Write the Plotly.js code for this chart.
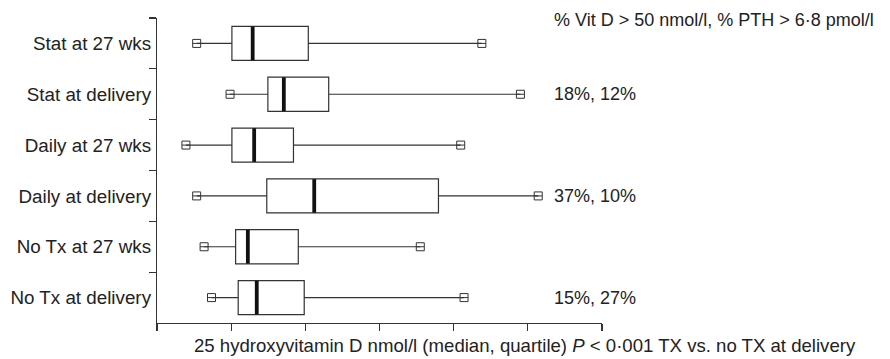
<!DOCTYPE html>
<html>
<head>
<meta charset="utf-8">
<script src="https://cdn.plot.ly/plotly-3.0.1.min.js"></script>
<style>html,body{margin:0;padding:0;background:#fff;}#chart{width:890px;height:359px;}</style>
</head>
<body>
<div id="chart"></div>
<script>
// ---- data (nmol/l) ----
const categories = ['Stat at 27 wks', 'Stat at delivery', 'Daily at 27 wks', 'Daily at delivery', 'No Tx at 27 wks', 'No Tx at delivery'];
const minV   = [10.7, 19.7, 7.8, 10.7, 12.7, 14.7];
const q1V    = [20.2, 29.9, 20.2, 29.6, 21.2, 21.9];
const medV   = [25.8, 34.2, 26.2, 42.4, 24.5, 26.9];
const q3V    = [40.8, 46.3, 36.8, 75.9, 38.1, 39.7];
const maxV   = [87.6, 98.0, 81.9, 102.8, 71.0, 82.8];
const pctLabels = ['', '18%, 12%', '', '37%, 10%', '', '15%, 27%'];
const pctHeader = '% Vit D > 50 nmol/l, % PTH > 6·8 pmol/l';
const xTitle = '25 hydroxyvitamin D nmol/l (median, quartile) <i>P</i> < 0·001 TX vs. no TX at delivery';
const pctX = 106.5;

const FONT = 'Liberation Sans, Arial, Helvetica, sans-serif';
const INK = '#222';
const LINE = '#333';

const traces = [
  {
    type: 'box', orientation: 'h',
    y: categories, q1: q1V, median: medV, q3: q3V,
    lowerfence: minV, upperfence: maxV,
    boxpoints: false, width: 0.67, whiskerwidth: 0,
    fillcolor: '#ffffff', line: {color: LINE, width: 1.2},
    hoverinfo: 'skip', showlegend: false
  },
  { // thick median bars
    type: 'scatter', mode: 'markers', x: medV, y: categories,
    marker: {symbol: 'line-ns', size: 24, color: '#111', line: {color: '#111', width: 3.8}},
    hoverinfo: 'skip', showlegend: false
  },
  { // min / max end markers
    type: 'scatter', mode: 'markers',
    x: minV.concat(maxV), y: categories.concat(categories),
    marker: {symbol: 'square-open', size: 8, color: LINE, line: {color: LINE, width: 1}},
    hoverinfo: 'skip', showlegend: false
  },
  {
    type: 'scatter', mode: 'markers',
    x: minV.concat(maxV), y: categories.concat(categories),
    marker: {symbol: 'line-ew-open', size: 5.7, color: LINE, line: {color: LINE, width: 1}},
    hoverinfo: 'skip', showlegend: false
  }
];

const annotations = [];
categories.forEach((c, i) => {
  if (pctLabels[i]) {
    annotations.push({x: pctX, y: c, xref: 'x', yref: 'y', text: pctLabels[i], showarrow: false,
      xanchor: 'left', yanchor: 'middle', font: {family: FONT, size: 18, color: INK}});
  }
});
annotations.push({x: pctX, y: 0.992, xref: 'x', yref: 'paper', text: pctHeader, showarrow: false,
  xanchor: 'left', yanchor: 'middle', font: {family: FONT, size: 18, color: INK}});
annotations.push({x: 0.078, y: -0.075, xref: 'paper', yref: 'paper', text: xTitle, showarrow: false,
  xanchor: 'left', yanchor: 'middle', font: {family: FONT, size: 18.6, color: INK}});

const layout = {
  width: 890, height: 359,
  margin: {l: 157, r: 288, t: 18, b: 36, pad: 0},
  paper_bgcolor: '#fff', plot_bgcolor: '#fff',
  font: {family: FONT, size: 18, color: INK},
  showlegend: false,
  xaxis: {
    range: [0, 120], tick0: 0, dtick: 20, ticks: 'outside', ticklen: 7, tickwidth: 1.2, tickcolor: LINE,
    showticklabels: false, showline: true, linecolor: LINE, linewidth: 1.2,
    showgrid: false, zeroline: false, fixedrange: true
  },
  yaxis: {
    type: 'category', categoryorder: 'array', categoryarray: categories,
    range: [5.5, -0.5], tickson: 'boundaries', ticks: 'outside', ticklen: 7, tickwidth: 1.2, tickcolor: LINE,
    showline: true, linecolor: LINE, linewidth: 1.2, showgrid: false, zeroline: false,
    tickfont: {family: FONT, size: 18.8, color: INK}, ticklabelstandoff: 1, fixedrange: true
  },
  annotations: annotations
};

Plotly.newPlot('chart', traces, layout, {displayModeBar: false, staticPlot: true});
</script>
</body>
</html>
